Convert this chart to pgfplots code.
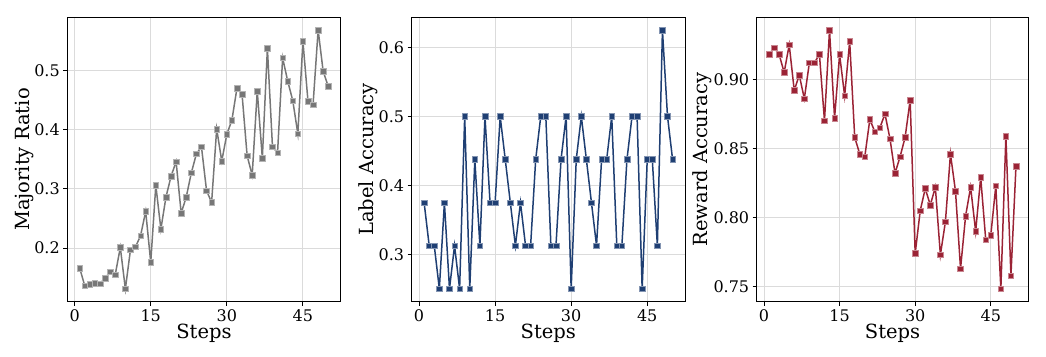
\documentclass[border=0pt]{standalone}
\usepackage{fontspec}
\setmainfont{DejaVu Serif}
\usepackage{pgfplots}
\usepackage{pgfplotstable}
\pgfplotsset{compat=1.18}

\definecolor{cgray}{HTML}{777777}
\definecolor{cblue}{HTML}{1F3F73}
\definecolor{cred}{HTML}{9B2335}

\pgfplotstableread{
x y
1 0.166
2 0.136
3 0.139
4 0.141
5 0.140
6 0.149
7 0.160
8 0.155
9 0.201
10 0.131
11 0.197
12 0.202
13 0.221
14 0.262
15 0.176
16 0.306
17 0.232
18 0.286
19 0.321
20 0.346
21 0.259
22 0.286
23 0.327
24 0.359
25 0.371
26 0.297
27 0.277
28 0.401
29 0.347
30 0.392
31 0.416
32 0.470
33 0.460
34 0.356
35 0.323
36 0.465
37 0.352
38 0.537
39 0.371
40 0.361
41 0.521
42 0.482
43 0.449
44 0.393
45 0.549
46 0.448
47 0.442
48 0.568
49 0.498
50 0.473
}\majority

\pgfplotstableread{
x y
1 0.375
2 0.3125
3 0.3125
4 0.25
5 0.375
6 0.25
7 0.3125
8 0.25
9 0.5
10 0.25
11 0.4375
12 0.3125
13 0.5
14 0.375
15 0.375
16 0.5
17 0.4375
18 0.375
19 0.3125
20 0.375
21 0.3125
22 0.3125
23 0.4375
24 0.5
25 0.5
26 0.3125
27 0.3125
28 0.4375
29 0.5
30 0.25
31 0.4375
32 0.5
33 0.4375
34 0.375
35 0.3125
36 0.4375
37 0.4375
38 0.5
39 0.3125
40 0.3125
41 0.4375
42 0.5
43 0.5
44 0.25
45 0.4375
46 0.4375
47 0.3125
48 0.625
49 0.5
50 0.4375
}\labelacc

\pgfplotstableread{
x y
1 0.918
2 0.923
3 0.918
4 0.905
5 0.925
6 0.892
7 0.903
8 0.886
9 0.912
10 0.912
11 0.918
12 0.870
13 0.9355
14 0.872
15 0.918
16 0.888
17 0.9275
18 0.858
19 0.846
20 0.844
21 0.871
22 0.862
23 0.865
24 0.875
25 0.857
26 0.832
27 0.844
28 0.858
29 0.885
30 0.774
31 0.805
32 0.821
33 0.809
34 0.822
35 0.773
36 0.797
37 0.846
38 0.819
39 0.763
40 0.801
41 0.822
42 0.790
43 0.829
44 0.784
45 0.787
46 0.823
47 0.7485
48 0.859
49 0.758
50 0.837
}\reward

\pgfplotsset{
 myaxis/.style={
  scale only axis, height=284.4pt,
  xmin=-1.45, xmax=52.45, xtick={0,15,30,45},
  grid=major, major grid style={color=black!14, line width=0.9pt},
  axis line style={black, line width=1pt},
  tick align=outside, tick pos=left, major tick length=4pt,
  every tick/.style={black, line width=0.9pt},
  tick label style={font=\fontsize{16}{16}\selectfont},
  /pgf/number format/assume math mode=true,
  label style={font=\fontsize{19.5}{20}\selectfont},
  xlabel=Steps,
  xlabel style={at={(axis description cs:0.5,-0.11)}, anchor=center},
  anchor=south west,
 },
 myplot/.style={#1, line width=1.5pt, mark=square*, mark size=2.8pt,
  mark options={fill=#1, draw=#1!55!white, line width=0.5pt}},
}

\begin{document}
\begin{tikzpicture}
\path[use as bounding box] (0,0) rectangle (1046pt,356pt);

\begin{axis}[myaxis, at={(67.3pt,54.3pt)}, width=273.4pt,
  ymin=0.1094, ymax=0.5896, ytick={0.2,0.3,0.4,0.5},
  yticklabel style={/pgf/number format/.cd, fixed, precision=1},
  ylabel={Majority Ratio},
  ylabel style={at={(axis description cs:-0.155,0.5)}, anchor=center, rotate=0}]
\addplot[myplot=cgray] table {\majority};
\end{axis}

\begin{axis}[myaxis, at={(411.7pt,54.3pt)}, width=273.3pt,
  ymin=0.23125, ymax=0.64375, ytick={0.3,0.4,0.5,0.6},
  yticklabel style={/pgf/number format/.cd, fixed, precision=1},
  ylabel={Label Accuracy},
  ylabel style={at={(axis description cs:-0.160,0.5)}, anchor=center}]
\addplot[myplot=cblue] table {\labelacc};
\end{axis}

\begin{axis}[myaxis, at={(756.7pt,54.3pt)}, width=271.6pt,
  ymin=0.7391, ymax=0.9449, ytick={0.75,0.80,0.85,0.90},
  yticklabel style={/pgf/number format/.cd, fixed, fixed zerofill, precision=2},
  ylabel={Reward Accuracy},
  ylabel style={at={(axis description cs:-0.201,0.5)}, anchor=center}]
\addplot[myplot=cred] table {\reward};
\end{axis}
\end{tikzpicture}
\end{document}
